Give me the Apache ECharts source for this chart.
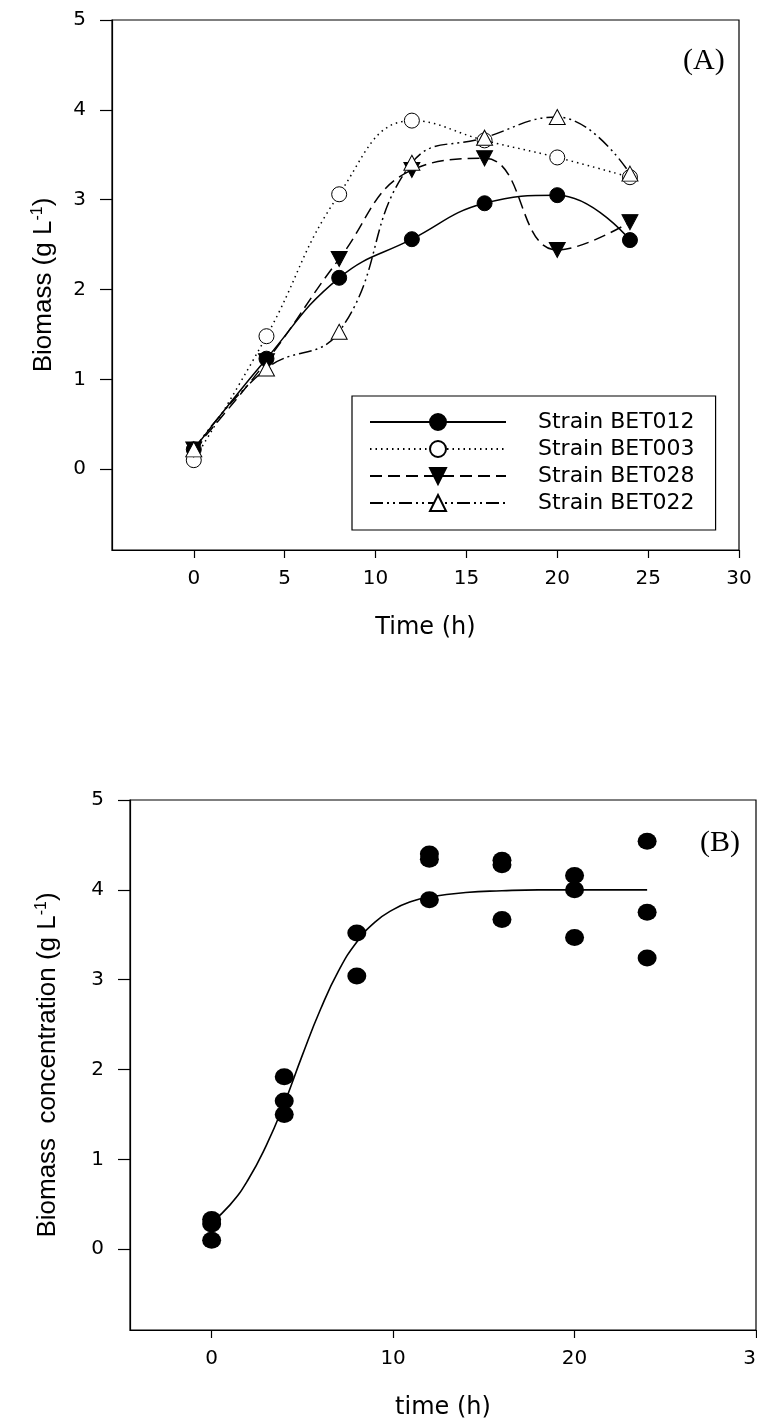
<!DOCTYPE html>
<html>
<head>
<meta charset="utf-8">
<script src="https://cdn.jsdelivr.net/npm/echarts@6/dist/echarts.min.js"></script>
<style>
html,body{margin:0;padding:0;background:#fff;}
#c{width:757px;height:1420px;}
</style>
</head>
<body>
<div id="c"></div>
<script>
// ---------- Panel (A) data ----------
var timeA = [0, 4, 8, 12, 16, 20, 24];
var bet012 = [0.22, 1.23, 2.13, 2.56, 2.96, 3.05, 2.55];
var bet003 = [0.10, 1.48, 3.06, 3.88, 3.66, 3.47, 3.25];
var bet028 = [0.22, 1.20, 2.34, 3.33, 3.46, 2.44, 2.75];
var bet022 = [0.22, 1.12, 1.53, 3.41, 3.69, 3.92, 3.29];
var namesA = ['Strain BET012', 'Strain BET003', 'Strain BET028', 'Strain BET022'];

// ---------- Panel (B) data ----------
var timeB = [0, 4, 8, 12, 16, 20, 24];
var rep1 = [0.33, 1.92, 3.52, 4.40, 4.33, 4.16, 4.54];
var rep2 = [0.28, 1.65, 3.04, 4.34, 4.28, 4.00, 3.75];
var rep3 = [0.10, 1.50, null, 3.89, 3.67, 3.47, 3.24];
var fitTime = [0, 1, 2, 3, 4, 5, 6, 7, 8, 9, 10, 11, 12, 14, 16, 18, 20, 22, 24];
var fitValue = [0.30, 0.49, 0.77, 1.15, 1.62, 2.16, 2.67, 3.10, 3.42, 3.64, 3.78, 3.87, 3.92, 3.97, 3.99, 4.00, 4.00, 4.00, 4.00];

// ---------- Tick labels ----------
var xTicksA = [0, 5, 10, 15, 20, 25, 30];
var xTicksB = [0, 10, 20, 30];
var yTicks = [0, 1, 2, 3, 4, 5];

function pairs(xs, ys) {
  var out = [];
  for (var i = 0; i < xs.length; i++) {
    if (ys[i] !== null && ys[i] !== undefined) out.push([xs[i], ys[i]]);
  }
  return out;
}

var SANS = 'DejaVu Sans';
var ARIAL = 'Liberation Sans';
var black = '#000';

function xAxisCfg(gridIndex, ticks, nameTxt, nameGap) {
  return {
    type: 'value', gridIndex: gridIndex, min: -4.5, max: 30,
    splitLine: {show: false},
    axisLine: {show: true, onZero: false, lineStyle: {color: black, width: 1.2}},
    axisTick: {show: true, inside: false, length: 8, customValues: ticks, lineStyle: {color: black, width: 1.2}},
    axisLabel: {show: true, customValues: ticks, margin: 19, color: black, fontFamily: SANS, fontSize: 20},
    name: nameTxt, nameLocation: 'middle', nameGap: nameGap,
    nameTextStyle: {color: black, fontFamily: SANS, fontSize: 24}
  };
}
function yAxisCfg(gridIndex, nameRich, nameGap, fs) {
  return {
    type: 'value', gridIndex: gridIndex, min: -0.9, max: 5,
    splitLine: {show: false},
    axisLine: {show: true, onZero: false, lineStyle: {color: black, width: 1.2}},
    axisTick: {show: true, inside: false, length: 12, customValues: yTicks, lineStyle: {color: black, width: 1.2}},
    axisLabel: {show: true, customValues: yTicks, margin: 26, color: black, fontFamily: SANS, fontSize: 20},
    name: nameRich, nameLocation: 'middle', nameGap: nameGap, nameRotate: 90,
    nameTextStyle: {
      color: black, fontFamily: ARIAL, fontSize: fs,
      rich: {
        a: {fontFamily: ARIAL, fontSize: fs, color: black},
        s: {fontFamily: ARIAL, fontSize: Math.round(fs * 0.6), color: black, verticalAlign: 'top', padding: [0, 0, Math.round(fs * 0.45), 0]}
      }
    }
  };
}

var downTri = 'path://M0,0L20,0L10,20Z';

var option = {
  backgroundColor: '#fff',
  animation: false,
  grid: [
    {left: 112, top: 20, width: 627, height: 530, show: true, borderColor: black, borderWidth: 1.2, backgroundColor: 'transparent', outerBoundsMode: 'none', containLabel: false},
    {left: 130, top: 800, width: 626, height: 530, show: true, borderColor: black, borderWidth: 1.2, backgroundColor: 'transparent', outerBoundsMode: 'none', containLabel: false}
  ],
  xAxis: [
    xAxisCfg(0, xTicksA, 'Time (h)', 66),
    xAxisCfg(1, xTicksB, 'time (h)', 66)
  ],
  yAxis: [
    yAxisCfg(0, '{a|Biomass (g L}{s|-1}{a|)}', 54, 26),
    yAxisCfg(1, '{a|Biomass  concentration (g L}{s|-1}{a|)}', 68, 26)
  ],
  legend: {
    left: 352, top: 396, orient: 'vertical',
    data: namesA,
    backgroundColor: '#fff', borderColor: black, borderWidth: 1.2,
    padding: [15, 21, 16, 17],
    itemWidth: 136, itemHeight: 20, itemGap: 5,
    textStyle: {color: black, fontFamily: SANS, fontSize: 22, lineHeight: 16, padding: [0, 0, 0, 27]}
  },
  graphic: [
    {type: 'text', left: 683, top: 46, style: {text: '(A)', fill: black, font: '30px "Liberation Serif"'}},
    {type: 'text', left: 700, top: 828, style: {text: '(B)', fill: black, font: '30px "Liberation Serif"'}}
  ],
  series: [
    {
      name: namesA[0], type: 'line', xAxisIndex: 0, yAxisIndex: 0, smooth: 0.45,
      data: pairs(timeA, bet012), symbol: 'circle', symbolSize: 15,
      lineStyle: {color: black, width: 1.5, type: 'solid'},
      itemStyle: {color: black, borderColor: black, borderWidth: 1}
    },
    {
      name: namesA[1], type: 'line', xAxisIndex: 0, yAxisIndex: 0, smooth: 0.45,
      data: pairs(timeA, bet003), symbol: 'circle', symbolSize: 15,
      lineStyle: {color: black, width: 1.5, type: [1.5, 4]},
      itemStyle: {color: '#fff', borderColor: black, borderWidth: 1}
    },
    {
      name: namesA[2], type: 'line', xAxisIndex: 0, yAxisIndex: 0, smooth: 0.45,
      data: pairs(timeA, bet028), symbol: downTri, symbolSize: [16, 15],
      lineStyle: {color: black, width: 1.5, type: [12, 6]},
      itemStyle: {color: black, borderColor: black, borderWidth: 1}
    },
    {
      name: namesA[3], type: 'line', xAxisIndex: 0, yAxisIndex: 0, smooth: 0.45,
      data: pairs(timeA, bet022), symbol: 'triangle', symbolSize: [16, 15],
      lineStyle: {color: black, width: 1.5, type: [13, 4, 2, 4, 2, 4]},
      itemStyle: {color: '#fff', borderColor: black, borderWidth: 1}
    },
    {
      name: 'fit', type: 'line', xAxisIndex: 1, yAxisIndex: 1, smooth: true,
      data: pairs(fitTime, fitValue), showSymbol: false, symbol: 'none',
      lineStyle: {color: black, width: 1.6}
    },
    {
      name: 'rep1', type: 'scatter', xAxisIndex: 1, yAxisIndex: 1,
      data: pairs(timeB, rep1), symbol: 'circle', symbolSize: [19, 17], itemStyle: {color: black, opacity: 1}
    },
    {
      name: 'rep2', type: 'scatter', xAxisIndex: 1, yAxisIndex: 1,
      data: pairs(timeB, rep2), symbol: 'circle', symbolSize: [19, 17], itemStyle: {color: black, opacity: 1}
    },
    {
      name: 'rep3', type: 'scatter', xAxisIndex: 1, yAxisIndex: 1,
      data: pairs(timeB, rep3), symbol: 'circle', symbolSize: [19, 17], itemStyle: {color: black, opacity: 1}
    }
  ]
};

var chart = echarts.init(document.getElementById('c'), null, {renderer: 'canvas'});
chart.setOption(option);
</script>
</body>
</html>
